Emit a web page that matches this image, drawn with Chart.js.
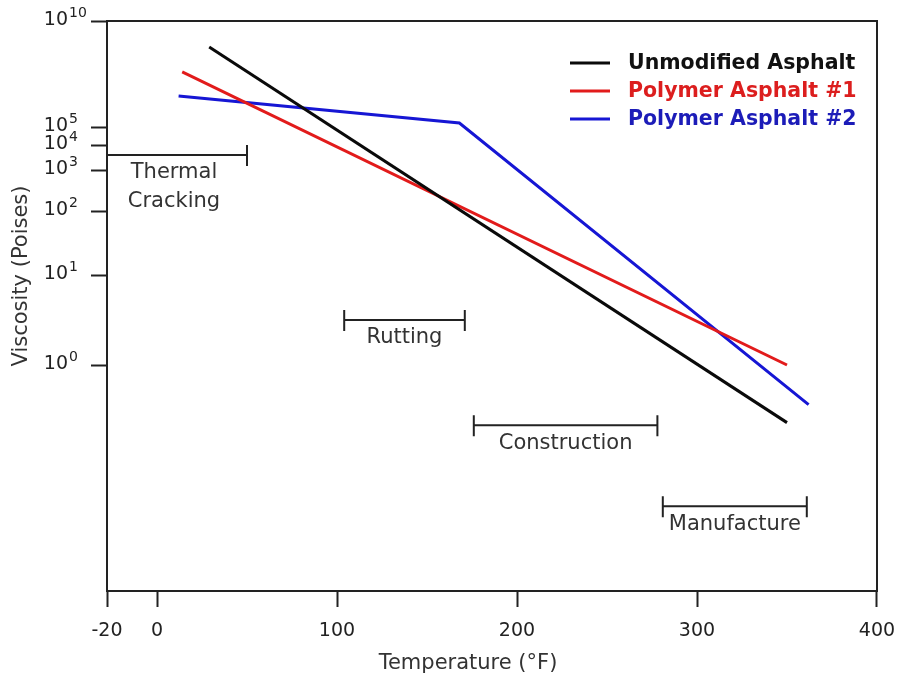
<!DOCTYPE html>
<html>
<head>
<meta charset="utf-8">
<title>Viscosity vs Temperature</title>
<script src="https://cdn.jsdelivr.net/npm/chart.js@4.4.1/dist/chart.umd.min.js"></script>
<style>
  html, body { margin: 0; padding: 0; background: #fff; }
  #wrap { width: 901px; height: 679px; }
</style>
</head>
<body>
<div id="wrap"><canvas id="viscChart" width="901" height="679"></canvas></div>
<script>
  // Temperatures in deg F, viscosity as log10(poises)
  var unmodifiedTemp = [29, 350];
  var unmodifiedLogVisc = [8.77, -0.64];

  var polymer1Temp = [14, 350];
  var polymer1LogVisc = [7.6, 0.0];

  var polymer2Temp = [12, 168, 362];
  var polymer2LogVisc = [6.46, 5.19, -0.44];

  // Axis ticks
  var tempTicks = [-20, 0, 100, 200, 300, 400];
  var viscTicks = [0, 1, 2, 3, 4, 5, 10];

  // Temperature ranges for each stage of the asphalt's life
  var stageNames = [['Thermal', 'Cracking'], ['Rutting'], ['Construction'], ['Manufacture']];
  var stageFrom = [-20, 104, 176, 281];
  var stageTo = [50, 171, 278, 361];
  var stageLogVisc = [3.6, 0.5, -0.67, -1.57];

  // The chart axes are stretched unevenly, so map values through knots
  // [value, fraction of axis length]
  var tempKnots = [[-20, 0], [0, 50 / 770], [400, 1]];
  var viscKnots = [[-2.51, 0], [0, 226 / 570], [1, 316 / 570], [2, 380 / 570],
                   [3, 421 / 570], [4, 446 / 570], [5, 464 / 570], [10, 1]];

  function interp(knots, v, from, to) {
    var i = 1;
    while (i < knots.length - 1 && v > knots[i][from]) i++;
    var a = knots[i - 1], b = knots[i];
    return a[to] + (v - a[from]) * (b[to] - a[to]) / (b[from] - a[from]);
  }

  class PiecewiseScale extends Chart.LinearScale {
    getPixelForValue(value) {
      if (value === null || value === undefined) return NaN;
      return this.getPixelForDecimal(interp(this.options.knots, value, 0, 1));
    }
    getValueForPixel(pixel) {
      return interp(this.options.knots, this.getDecimalForPixel(pixel), 1, 0);
    }
  }
  PiecewiseScale.id = 'piecewise';
  PiecewiseScale.defaults = Chart.LinearScale.defaults;
  Chart.register(PiecewiseScale);

  var FONT = '"DejaVu Sans", Verdana, sans-serif';
  var INK = '#222';

  // Frame, power-of-ten labels, axis titles, stage brackets and the legend
  var decorations = {
    id: 'decorations',
    afterDraw(chart) {
      var c = chart.ctx, area = chart.chartArea;
      var xs = chart.scales.x, ys = chart.scales.y;
      c.save();
      c.strokeStyle = INK;
      c.lineWidth = 2;
      c.strokeRect(area.left, area.top, area.right - area.left, area.bottom - area.top);

      // y tick labels as 10 with a raised exponent
      c.fillStyle = INK;
      c.textBaseline = 'middle';
      var baseRight = area.left - 39;
      viscTicks.forEach(function (p) {
        var y = ys.getPixelForValue(p);
        c.font = '19px ' + FONT;
        c.textAlign = 'right';
        c.fillText('10', baseRight, y - 1);
        c.font = '14px ' + FONT;
        c.textAlign = 'left';
        c.fillText(String(p), baseRight + 1, y - 8);
      });

      // stage brackets
      c.fillStyle = '#333';
      c.font = '21px ' + FONT;
      c.textAlign = 'center';
      stageNames.forEach(function (lines, i) {
        var x1 = xs.getPixelForValue(stageFrom[i]);
        var x2 = xs.getPixelForValue(stageTo[i]);
        var y = ys.getPixelForValue(stageLogVisc[i]);
        c.beginPath();
        c.moveTo(x1, y); c.lineTo(x2, y);
        c.moveTo(x1, y - 10); c.lineTo(x1, y + 11);
        c.moveTo(x2, y - 10); c.lineTo(x2, y + 11);
        c.stroke();
        var cx = (x1 + x2) / 2 - (i === 0 ? 3 : 0);
        lines.forEach(function (t, j) {
          c.fillText(t, cx, y + 18 + j * 29);
        });
      });

      // axis titles
      c.font = '21px ' + FONT;
      c.fillStyle = '#333';
      c.fillText('Temperature (\u00b0F)', 468, 664);
      c.save();
      c.translate(22, 276);
      c.rotate(-Math.PI / 2);
      c.fillText('Viscosity (Poises)', 0, 0);
      c.restore();

      // legend
      var lx = area.right - 307, ly = area.top + 42;
      c.font = 'bold 20.5px ' + FONT;
      c.textAlign = 'left';
      chart.data.datasets.forEach(function (ds, i) {
        var y = ly + i * 28;
        c.strokeStyle = ds.borderColor;
        c.lineWidth = 3;
        c.beginPath();
        c.moveTo(lx, y); c.lineTo(lx + 40, y);
        c.stroke();
        c.fillStyle = ds.textColor;
        c.fillText(ds.label, lx + 58, y + 1);
      });
      c.restore();
    }
  };

  function toPoints(xs, ys) {
    return xs.map(function (x, i) { return { x: x, y: ys[i] }; });
  }

  var data = {
    datasets: [
      {
        label: 'Unmodified Asphalt',
        data: toPoints(unmodifiedTemp, unmodifiedLogVisc),
        borderColor: '#0a0a0a',
        textColor: '#111',
        borderWidth: 3
      },
      {
        label: 'Polymer Asphalt #1',
        data: toPoints(polymer1Temp, polymer1LogVisc),
        borderColor: '#e21b1b',
        textColor: '#dc1e1e',
        borderWidth: 3
      },
      {
        label: 'Polymer Asphalt #2',
        data: toPoints(polymer2Temp, polymer2LogVisc),
        borderColor: '#1616d4',
        textColor: '#1c1cb8',
        borderWidth: 3
      }
    ]
  };

  var axisGrid = {
    drawOnChartArea: false,
    drawTicks: true,
    tickLength: 16,
    tickWidth: 2,
    tickColor: INK
  };

  // keep the plot box fixed regardless of tick label overhang
  function noOverhang(scale) {
    scale.paddingLeft = 0;
    scale.paddingRight = 0;
    scale.paddingTop = 0;
    scale.paddingBottom = 0;
  }

  var options = {
    responsive: false,
    animation: false,
    layout: { padding: { top: 21, right: 24, left: 0, bottom: 0 } },
    elements: { point: { radius: 0 }, line: { tension: 0 } },
    plugins: { legend: { display: false }, tooltip: { enabled: false } },
    scales: {
      x: {
        type: 'piecewise',
        knots: tempKnots,
        min: -20,
        max: 400,
        grid: axisGrid,
        border: { color: INK, width: 2 },
        afterBuildTicks: function (scale) {
          scale.ticks = tempTicks.map(function (v) { return { value: v }; });
        },
        afterFit: function (scale) { scale.height = 88; noOverhang(scale); },
        ticks: {
          autoSkip: false,
          maxRotation: 0,
          padding: 13,
          color: INK,
          font: { family: FONT, size: 19 },
          callback: function (v) { return String(v); }
        }
      },
      y: {
        type: 'piecewise',
        knots: viscKnots,
        min: -2.51,
        max: 10,
        grid: axisGrid,
        border: { color: INK, width: 2 },
        afterBuildTicks: function (scale) {
          scale.ticks = viscTicks.map(function (v) { return { value: v }; });
        },
        afterFit: function (scale) { scale.width = 107; noOverhang(scale); },
        // labels with exponents are drawn by the decorations plugin
        ticks: { display: false, autoSkip: false }
      }
    }
  };

  var ctx = document.getElementById('viscChart').getContext('2d');
  var viscChart = new Chart(ctx, {
    type: 'line',
    data: data,
    options: options,
    plugins: [decorations]
  });
</script>
</body>
</html>
